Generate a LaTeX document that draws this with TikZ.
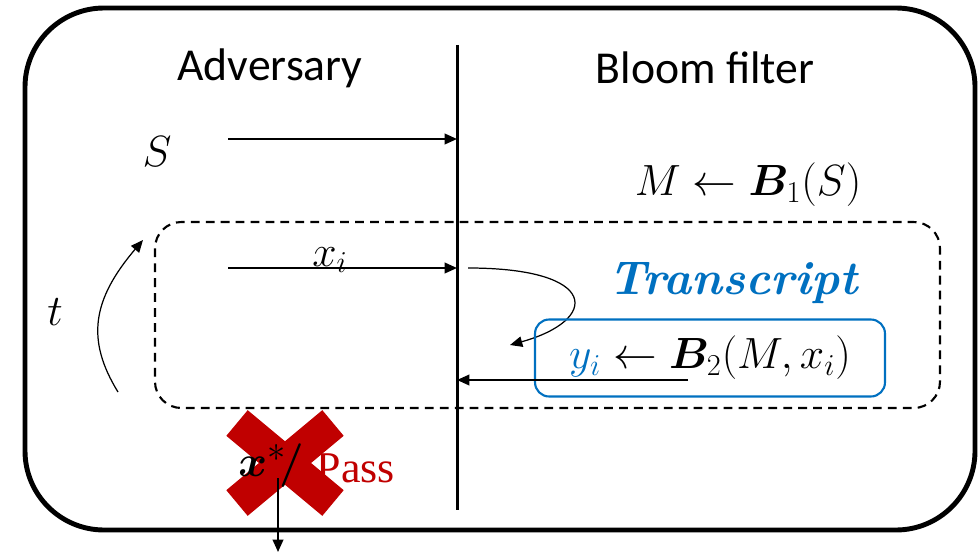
\documentclass[tikz,border=0pt]{standalone}
\usepackage{amsmath,amssymb}
\usepackage{bm}
\usepackage{fontspec}
\usepackage{xcolor}
\usepackage{tikz}
\usetikzlibrary{arrows.meta, positioning, calc}
\newfontfamily\calibrifont{Carlito}
\newfontfamily\cambriafont{Liberation Serif}
\definecolor{tblue}{HTML}{0070C0}
\definecolor{xred}{HTML}{C00000}
\tikzset{
  party/.style={font=\calibrifont\fontsize{26}{30}\selectfont, inner sep=0pt},
  mathlbl/.style={font=\fontsize{24}{28}\selectfont, inner sep=0pt},
  arr/.style={-{Triangle[length=7pt, width=6pt]}, line width=1.1pt},
  thinarr/.style={-{Triangle[length=7pt, width=6pt]}, line width=0.7pt},
  crossbar/.style={line width=19pt, xred},
}

\begin{document}
\begin{tikzpicture}[x=0.02cm, y=-0.02cm]
  \useasboundingbox (0,0) rectangle (979,554);
  % frame and divider
  \draw[line width=2.8pt, rounded corners=45pt] (25,8) rectangle (975,530);
  \coordinate (divtop) at (457,45);
  \coordinate (divbot) at (457,510);
  \draw[line width=1.7pt] (divtop) -- (divbot);
  \node[party] (adv) at (270,68) {Adversary};
  \node[party] (bloom) at (705,68) {Bloom filter};
  % set S
  \node[mathlbl] (set) at (157,152) {$S$};
  \coordinate (sfrom) at (228,139);
  \coordinate (sto) at (457,139);
  \draw[arr] (sfrom) -- (sto);
  \node[mathlbl] (build) at (748,185) {$M \leftarrow \bm{B}_1(S)$};
  % query loop
  \draw[dashed, dash pattern=on 5pt off 3.5pt, line width=1.2pt, rounded corners=15pt] (155,222) rectangle (940,408);
  \coordinate (qfrom) at (228,268);
  \coordinate (qto) at (457,268);
  \draw[arr] (qfrom) -- (qto);
  \node[mathlbl] (query) at (330,260) {$x_i$};
  \coordinate (turnfrom) at (468,268);
  \coordinate (turnto) at (510,345);
  \draw[thinarr] (turnfrom) .. controls (600,268) and (600,320) .. (turnto);
  \node[font=\fontsize{27}{30}\selectfont\bfseries\itshape, text=tblue, inner sep=0pt] (trans) at (733,283) {Transcript};
  \node[mathlbl, draw=tblue, line width=1.2pt, rounded corners=8pt, minimum width=7cm, minimum height=1.54cm] (answer) at (710,358) {$\textcolor{tblue}{y_i} \leftarrow \bm{B}_2(M,x_i)$};
  \coordinate (afrom) at (688,380);
  \coordinate (ato) at (457,380);
  \draw[arr] (afrom) -- (ato);
  \node[mathlbl] (rounds) at (55,312) {$t$};
  \coordinate (lfrom) at (118,392);
  \coordinate (lto) at (143,240);
  \draw[thinarr] (lfrom) .. controls (86,340) and (92,300) .. (lto);
  % final output, crossed out
  \node[font=\cambriafont\fontsize{25}{30}\selectfont, text=xred, inner sep=0pt] (pass) at (356,468) {Pass};
  \draw[crossbar] (237,423) -- (333,503);
  \draw[crossbar] (333,423) -- (237,503);
  \node[font=\fontsize{28}{32}\selectfont, inner sep=0pt] (guess) at (271,466) {$\bm{x}^{*}\!\bm{/}$};
  \coordinate (gfrom) at (278,478);
  \coordinate (gto) at (278,552);
  \draw[arr] (gfrom) -- (gto);
\end{tikzpicture}
\end{document}
